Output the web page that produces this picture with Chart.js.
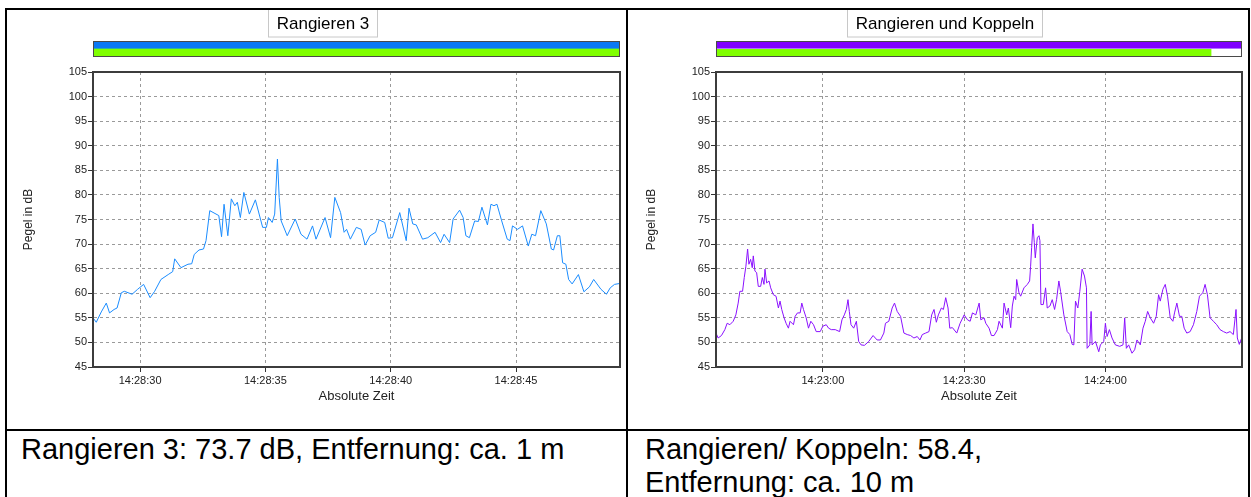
<!DOCTYPE html>
<html lang="de">
<head>
<meta charset="UTF-8">
<title>Rangieren</title>
<style>
  body { margin: 0; width: 1251px; height: 497px; background: #fff; position: relative; overflow: hidden;
         font-family: "Liberation Sans", Arial, sans-serif; }
  .ln { position: absolute; background: #000; z-index: 2; }
  canvas { position: absolute; top: 10px; }
  .cap { position: absolute; font-size: 29px; line-height: 33px; color: #000; white-space: nowrap; }
</style>
</head>
<body>
<div class="ln" style="left:5px;top:8px;width:1245px;height:2px"></div>
<div class="ln" style="left:5px;top:8px;width:2px;height:489px"></div>
<div class="ln" style="left:626px;top:8px;width:2px;height:489px"></div>
<div class="ln" style="left:1248px;top:8px;width:2px;height:489px"></div>
<div class="ln" style="left:5px;top:429px;width:1245px;height:2px"></div>

<canvas id="leftChart" width="619" height="418" style="left:7px"></canvas>
<canvas id="rightChart" width="618" height="418" style="left:630px"></canvas>

<div class="cap" style="left:21px;top:433px">Rangieren 3: 73.7 dB, Entfernung: ca. 1 m</div>
<div class="cap" style="left:645px;top:433px">Rangieren/ Koppeln: 58.4,<br>Entfernung: ca. 10 m</div>

<script src="https://cdn.jsdelivr.net/npm/chart.js@4.4.1/dist/chart.umd.min.js"></script>
<script>
  // left: seconds after 14:28:00, right: seconds after 14:22:00
  const leftTimes = [
    28.12, 28.25, 28.45, 28.65, 28.78, 28.96, 29.08, 29.25, 29.37, 29.68, 29.9, 30.14, 30.4, 30.58, 30.83,
    31.12, 31.3, 31.38, 31.63, 31.91, 32.06, 32.16, 32.35, 32.53, 32.63, 32.78, 33.14, 33.25, 33.35, 33.5,
    33.64, 33.78, 33.88, 34.0, 34.14, 34.36, 34.6, 34.89, 35.04, 35.12, 35.27, 35.37, 35.48, 35.55, 35.63,
    35.87, 36.19, 36.42, 36.66, 36.88, 37.02, 37.38, 37.6, 37.77, 38.0, 38.14, 38.24, 38.39, 38.63, 38.82,
    38.98, 39.18, 39.4, 39.54, 39.76, 39.9, 40.07, 40.36, 40.62, 40.73, 40.88, 41.02, 41.27, 41.48, 41.77,
    41.99, 42.13, 42.35, 42.49, 42.75, 42.89, 43.0, 43.14, 43.35, 43.5, 43.64, 43.86, 44.0, 44.12, 44.24,
    44.43, 44.65, 44.76, 44.86, 45.06, 45.26, 45.49, 45.63, 45.78, 45.99, 46.21, 46.41, 46.5, 46.65, 46.75,
    46.86, 46.99, 47.1, 47.24, 47.49, 47.71, 47.93, 48.1, 48.39, 48.61, 48.76, 48.93, 49.15
  ];
  const leftLevels = [
    55.0, 54.1, 56.2, 58.0, 56.0, 56.7, 57.0, 60.1, 60.4, 59.8, 60.8, 61.8, 59.1, 60.4, 62.8,
    63.8, 64.4, 67.0, 65.2, 65.9, 66.0, 67.9, 68.8, 69.0, 70.7, 76.8, 75.8, 71.5, 78.1, 71.7,
    79.2, 77.8, 78.5, 75.4, 80.5, 76.1, 79.0, 73.4, 73.4, 75.4, 74.4, 76.1, 87.3, 79.5, 74.7,
    71.7, 75.1, 72.0, 71.0, 73.7, 71.0, 75.4, 71.3, 79.5, 76.4, 72.4, 73.0, 71.0, 73.4, 73.0,
    69.8, 71.7, 72.4, 74.9, 74.4, 71.2, 71.3, 76.4, 70.7, 77.3, 74.1, 73.9, 71.0, 71.3, 72.4,
    70.3, 72.0, 70.3, 75.1, 76.9, 75.4, 71.7, 71.3, 74.7, 74.6, 77.5, 73.9, 78.1, 77.8, 78.1,
    74.7, 71.0, 70.7, 73.7, 73.0, 73.7, 69.6, 72.0, 71.7, 76.8, 74.1, 69.0, 68.8, 71.7, 71.7,
    66.2, 65.9, 62.8, 61.9, 63.8, 60.3, 61.3, 62.8, 60.8, 59.8, 61.1, 61.8, 62.0
  ];
  const rightTimes = [
    37.3, 37.75, 38.46, 39.18, 39.67, 40.24, 40.95, 41.52, 42.01, 42.37, 42.94, 43.3, 43.65, 44.01, 44.29,
    44.65, 45.0, 45.22, 45.57, 45.93, 46.28, 46.78, 47.14, 47.49, 47.7, 48.06, 48.56, 48.91, 49.48, 50.05,
    50.55, 50.9, 51.26, 51.76, 52.18, 52.68, 53.03, 53.75, 54.1, 54.6, 55.17, 55.52, 55.88, 56.45, 56.94,
    57.44, 58.01, 58.58, 59.43, 60.0, 60.71, 61.21, 61.78, 62.63, 63.55, 64.05, 64.55, 64.98, 65.33, 65.61,
    65.97, 66.54, 67.11, 67.6, 68.1, 68.81, 69.74, 70.66, 71.51, 72.22, 72.94, 73.29, 74.0, 74.71, 75.21,
    75.78, 76.49, 77.2, 77.91, 78.62, 79.33, 80.04, 80.61, 81.11, 81.82, 82.53, 83.1, 83.6, 84.09, 84.52,
    85.16, 85.59, 86.08, 86.58, 86.94, 87.51, 88.43, 89.14, 90.0, 90.71, 91.27, 91.76, 92.47, 93.18, 93.53,
    94.23, 94.59, 95.29, 95.79, 96.35, 97.06, 97.41, 98.12, 98.47, 99.03, 99.39, 99.88, 100.23, 100.59, 100.94,
    101.15, 101.64, 102.0, 102.7, 103.41, 103.9, 104.11, 104.33, 104.61, 104.89, 105.1, 105.53, 105.88, 106.09, 106.3,
    106.8, 107.29, 107.64, 108.21, 108.7, 109.2, 109.62, 110.11, 110.47, 111.17, 111.88, 112.44, 112.94, 113.29, 113.64,
    114.14, 114.56, 115.05, 115.55, 115.97, 116.11, 116.68, 116.96, 117.17, 117.88, 118.58, 118.93, 119.64, 119.99, 120.35,
    120.84, 121.4, 122.11, 123.03, 123.73, 124.09, 124.44, 124.93, 125.64, 126.2, 126.7, 127.4, 127.97, 128.46, 128.96,
    129.52, 130.23, 130.79, 131.29, 131.64, 132.2, 132.7, 133.19, 133.76, 134.32, 134.67, 135.17, 135.73, 136.22, 136.72,
    137.28, 137.99, 138.69, 139.4, 139.97, 140.67, 141.16, 141.66, 142.22, 142.93, 143.63, 144.34, 145.05, 145.75, 146.46,
    147.16, 147.73, 148.01, 148.43, 148.93
  ];
  const rightLevels = [
    51.9, 50.9, 51.4, 52.6, 53.9, 53.6, 54.3, 55.6, 58.0, 60.4, 60.4, 63.2, 65.5, 69.0, 65.9,
    66.9, 65.2, 67.6, 64.5, 64.2, 61.4, 61.4, 63.2, 61.8, 64.9, 62.1, 62.5, 61.1, 59.7, 59.4,
    57.0, 58.4, 56.7, 55.0, 53.9, 52.9, 54.3, 53.6, 55.3, 56.0, 56.0, 58.0, 56.7, 55.0, 52.9,
    54.3, 53.6, 52.2, 52.2, 53.3, 53.6, 52.9, 52.6, 52.6, 52.2, 54.6, 55.6, 56.7, 58.7, 56.3,
    53.6, 52.9, 54.3, 50.2, 49.5, 49.4, 50.2, 51.4, 50.5, 50.5, 51.9, 53.9, 54.3, 57.0, 58.0,
    56.3, 55.3, 51.9, 51.6, 51.4, 50.9, 51.2, 50.5, 51.6, 51.9, 52.2, 55.6, 56.7, 54.1, 55.6,
    57.0, 56.7, 59.1, 57.0, 52.9, 53.0, 51.9, 53.9, 55.6, 54.6, 54.3, 56.0, 55.6, 58.0, 54.6,
    55.0, 53.9, 52.9, 51.4, 51.4, 52.6, 54.3, 52.9, 58.0, 55.6, 57.0, 53.0, 57.4, 59.4, 58.7,
    62.8, 60.1, 59.4, 61.1, 61.8, 62.5, 65.5, 69.3, 74.1, 70.3, 67.2, 71.3, 71.7, 70.7, 57.7,
    57.7, 61.1, 57.0, 57.4, 58.7, 56.7, 58.7, 62.5, 60.4, 55.6, 52.2, 51.6, 49.6, 49.5, 58.4,
    57.0, 60.4, 64.9, 63.5, 61.1, 48.8, 49.5, 56.3, 49.5, 50.2, 48.1, 49.5, 50.2, 53.9, 51.2,
    52.6, 50.9, 49.5, 49.2, 49.5, 55.0, 48.8, 49.5, 47.8, 48.5, 50.5, 49.5, 52.9, 54.3, 56.3,
    55.0, 53.9, 55.3, 59.7, 58.4, 60.8, 61.8, 59.4, 55.0, 54.3, 56.0, 58.0, 55.3, 55.3, 52.9,
    51.9, 52.2, 53.6, 56.3, 59.4, 60.1, 61.8, 59.7, 55.0, 54.3, 53.6, 52.6, 52.2, 51.9, 52.2,
    51.6, 56.7, 50.9, 49.6, 50.9
  ];

  const leftTicks = [30, 35, 40, 45];
  const leftTickLabels = ['14:28:30', '14:28:35', '14:28:40', '14:28:45'];
  const rightTicks = [60, 90, 120];
  const rightTickLabels = ['14:23:00', '14:23:30', '14:24:00'];
  const yTicks = [45, 50, 55, 60, 65, 70, 75, 80, 85, 90, 95, 100, 105];

  const FONT = '"Liberation Sans", Arial, sans-serif';

  // title box, overview bar and plot frame
  const decoPlugin = {
    id: 'deco',
    afterDraw(chart, args, opts) {
      const ctx = chart.ctx;
      const a = chart.chartArea;
      ctx.save();
      ctx.strokeStyle = '#3c3c3c';
      ctx.lineWidth = 2;
      ctx.strokeRect(a.left, a.top, a.width, a.height);

      ctx.font = '17px ' + FONT;
      const w = Math.round(ctx.measureText(opts.title).width + 17);
      const cx = Math.round(chart.width / 2 + opts.titleShift);
      ctx.fillStyle = '#fff';
      ctx.fillRect(cx - w / 2, 0, w, 27);
      ctx.strokeStyle = '#c8c8c8';
      ctx.lineWidth = 1;
      ctx.strokeRect(cx - w / 2 + 0.5, -0.5, w - 1, 27.5);
      ctx.fillStyle = '#000';
      ctx.textAlign = 'center';
      ctx.textBaseline = 'middle';
      ctx.fillText(opts.title, cx, 14);

      const x0 = a.left, x1 = a.right;
      const xg = opts.greenEnd == null ? x1 : chart.scales.x.getPixelForValue(opts.greenEnd);
      ctx.fillStyle = '#fff';
      ctx.fillRect(x0, 32, x1 - x0, 14);
      ctx.fillStyle = opts.topColor;
      ctx.fillRect(x0, 32, x1 - x0, 6);
      ctx.fillStyle = opts.midColor;
      ctx.fillRect(x0, 38, x1 - x0, 1);
      ctx.fillStyle = '#80ff00';
      ctx.fillRect(x0, 39, xg - x0, 7);
      ctx.strokeStyle = '#4a4a4a';
      ctx.strokeRect(x0 + 0.5, 31.5, x1 - x0 - 1, 15);
      ctx.restore();
    }
  };

  function renderChart(canvas, plotRight, times, levels, color, xMin, xMax, ticks, tickLabels, deco) {
    const points = times.map((t, i) => ({x: t, y: levels[i]}));
    const tickFont = {family: FONT, size: 11};
    const config = {
      type: 'line',
      data: {
        datasets: [{
          data: points,
          borderColor: color,
          borderWidth: 1,
          pointRadius: 0,
          tension: 0,
          fill: false
        }]
      },
      options: {
        responsive: false,
        animation: false,
        devicePixelRatio: 1,
        layout: {padding: {left: 0, right: canvas.width - plotRight, top: 62, bottom: 0}},
        plugins: {
          legend: {display: false},
          tooltip: {enabled: false},
          deco: deco
        },
        scales: {
          x: {
            type: 'linear',
            min: xMin,
            max: xMax,
            afterBuildTicks: (s) => { s.ticks = ticks.map(v => ({value: v})); },
            afterFit: (s) => { s.height = 61; },
            ticks: {
              autoSkip: false,
              maxRotation: 0,
              padding: 2,
              color: '#222',
              font: tickFont,
              callback: (v) => tickLabels[ticks.indexOf(v)]
            },
            grid: {color: '#9a9a9a', lineWidth: 1, tickLength: 5, tickColor: '#333'},
            border: {display: true, color: '#3c3c3c', width: 2, dash: [3, 3]},
            title: {display: true, text: 'Absolute Zeit', color: '#222',
                    font: {family: FONT, size: 13}, padding: {top: 0, bottom: 23.5}}
          },
          y: {
            min: 45,
            max: 105,
            afterBuildTicks: (s) => { s.ticks = yTicks.map(v => ({value: v})); },
            afterFit: (s) => { s.width = 86; },
            ticks: {padding: 1, color: '#222', font: tickFont},
            grid: {color: '#9a9a9a', lineWidth: 1, tickLength: 5, tickColor: '#333'},
            border: {display: true, color: '#3c3c3c', width: 2, dash: [3, 3]},
            title: {display: true, text: 'Pegel in dB', color: '#222',
                    font: {family: FONT, size: 12}, padding: {top: 14.3, bottom: 0}}
          }
        }
      },
      plugins: [decoPlugin]
    };
    return new Chart(canvas, config);
  }

  renderChart(document.getElementById('leftChart'), 613, leftTimes, leftLevels, '#1a8cff',
    28.12, 49.15, leftTicks, leftTickLabels,
    {title: 'Rangieren 3', titleShift: 6.5, topColor: '#0a78f5', midColor: '#30b0a0', greenEnd: null});

  renderChart(document.getElementById('rightChart'), 612, rightTimes, rightLevels, '#8a10ff',
    37.3, 149.0, rightTicks, rightTickLabels,
    {title: 'Rangieren und Koppeln', titleShift: 6, topColor: '#8000ff', midColor: '#b070ff', greenEnd: 142.5});
</script>
</body>
</html>
